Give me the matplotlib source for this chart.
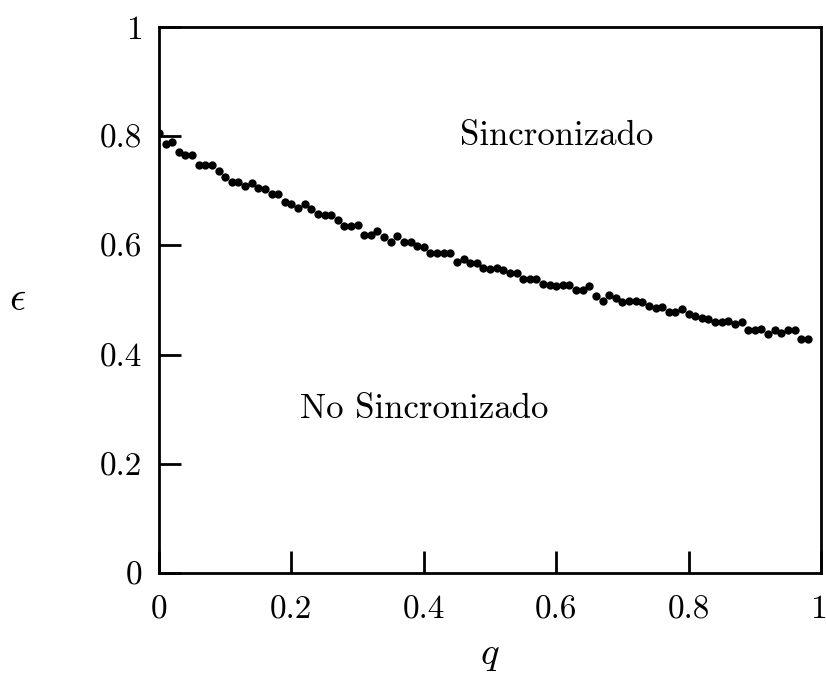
import matplotlib
matplotlib.use("Agg")
import matplotlib.pyplot as plt
import matplotlib.transforms as mtransforms
import numpy as np

plt.rcParams["font.family"] = "serif"
plt.rcParams["font.serif"] = ["cmr10"]
plt.rcParams["mathtext.fontset"] = "cm"
plt.rcParams["axes.unicode_minus"] = False

# Synchronisation threshold epsilon as a function of q
q = [i / 100 for i in range(99)]
eps = [
    0.805, 0.785, 0.789, 0.772, 0.766, 0.766, 0.747, 0.747, 0.747, 0.737,
    0.726, 0.717, 0.716, 0.709, 0.715, 0.705, 0.704, 0.695, 0.694, 0.679,
    0.676, 0.668, 0.675, 0.666, 0.657, 0.656, 0.656, 0.647, 0.636, 0.636,
    0.637, 0.620, 0.619, 0.626, 0.615, 0.606, 0.618, 0.607, 0.607, 0.599,
    0.598, 0.587, 0.587, 0.587, 0.587, 0.569, 0.576, 0.568, 0.567, 0.559,
    0.556, 0.559, 0.555, 0.549, 0.549, 0.539, 0.538, 0.539, 0.529, 0.528,
    0.526, 0.528, 0.528, 0.518, 0.519, 0.526, 0.507, 0.498, 0.509, 0.504,
    0.497, 0.499, 0.498, 0.496, 0.489, 0.486, 0.487, 0.478, 0.478, 0.484,
    0.474, 0.470, 0.468, 0.466, 0.459, 0.459, 0.461, 0.456, 0.459, 0.446,
    0.446, 0.447, 0.438, 0.446, 0.439, 0.445, 0.445, 0.429, 0.428,
]

ticks = [0, 0.2, 0.4, 0.6, 0.8, 1]
tick_labels = ["0", "0.2", "0.4", "0.6", "0.8", "1"]

fig = plt.figure(figsize=(8.26, 6.75), dpi=100)
ax = fig.add_axes([0.1925, 0.151, 0.8015, 0.809])

ax.plot(q, eps, "o", color="black", markersize=6, markeredgewidth=0)

ax.set_xlim(0, 1)
ax.set_ylim(0, 1)
ax.set_xticks(ticks)
ax.set_xticklabels(tick_labels)
ax.set_yticks(ticks)
ax.set_yticklabels(tick_labels)
ax.tick_params(direction="in", length=16, width=2, labelsize=24)
ax.tick_params(axis="x", pad=16)
ax.tick_params(axis="y", pad=12)
for s in ax.spines.values():
    s.set_linewidth(2)

# keep the last x label inside the figure edge
last = ax.get_xticklabels()[-1]
last.set_transform(last.get_transform()
                   + mtransforms.ScaledTranslation(-3 / 100, 0, fig.dpi_scale_trans))

ax.text(0.6, 0.8, "Sincronizado", fontsize=25, ha="center", va="center")
ax.text(0.4, 0.3, "No Sincronizado", fontsize=25, ha="center", va="center")

fig.text(18 / 826, 1 - 300 / 675, r"$\epsilon$", fontsize=29, ha="center", va="center")
fig.text(490 / 826, 1 - 655 / 675, r"$q$", fontsize=28, ha="center", va="center")

fig.savefig("out.png", dpi=100)
plt.close(fig)
